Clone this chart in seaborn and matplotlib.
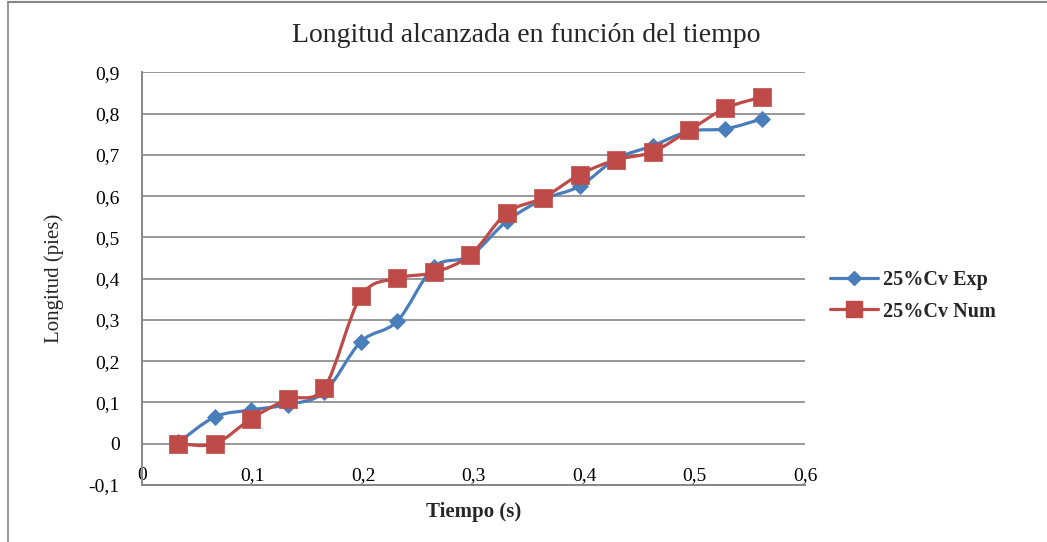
import numpy as np
import matplotlib
matplotlib.use("Agg")
import matplotlib.pyplot as plt
from matplotlib.path import Path
from matplotlib.patches import PathPatch
from matplotlib.lines import Line2D
import seaborn as sns

# ==================== Data ====================
tiempo = [0.033, 0.066, 0.099, 0.132, 0.165, 0.198, 0.231, 0.264, 0.297,
          0.330, 0.363, 0.396, 0.429, 0.462, 0.495, 0.528, 0.561]
cv_exp = [0.003, 0.065, 0.082, 0.095, 0.125, 0.247, 0.297, 0.428, 0.455,
          0.539, 0.592, 0.624, 0.690, 0.722, 0.757, 0.763, 0.787]
cv_num = [0.000, 0.000, 0.061, 0.108, 0.136, 0.357, 0.401, 0.415, 0.457,
          0.559, 0.596, 0.652, 0.688, 0.707, 0.759, 0.813, 0.840]
series_names = ["25%Cv Exp", "25%Cv Num"]
y_ticks = [-0.1, 0, 0.1, 0.2, 0.3, 0.4, 0.5, 0.6, 0.7, 0.8, 0.9]
x_ticks = [0, 0.1, 0.2, 0.3, 0.4, 0.5, 0.6]

COLOR_EXP = "#4A7EBB"
COLOR_NUM = "#BE4B48"
GRID = "#868686"

sns.set_style("white")
plt.rcParams["font.family"] = ["Liberation Serif", "DejaVu Serif"]


def smooth_path(x, y):
    """Excel-like smoothed line: Catmull-Rom converted to cubic Bezier."""
    p = np.column_stack([x, y])
    n = len(p)
    verts = [p[0]]
    codes = [Path.MOVETO]
    for i in range(n - 1):
        p0 = p[i - 1] if i > 0 else p[i]
        p3 = p[i + 2] if i + 2 < n else p[i + 1]
        c1 = p[i] + (p[i + 1] - p0) / 6.0
        c2 = p[i + 1] - (p3 - p[i]) / 6.0
        verts += [c1, c2, p[i + 1]]
        codes += [Path.CURVE4] * 3
    return Path(verts, codes)


def fmt(v):
    if abs(v) < 1e-9:
        return "0"
    return f"{v:.1f}".replace(".", ",")


fig = plt.figure(figsize=(10.47, 5.42), dpi=100)
ax = fig.add_axes([142 / 1047, 1 - 485 / 542, 663 / 1047, (485 - 72.3) / 542])

for y, color in [(cv_exp, COLOR_EXP), (cv_num, COLOR_NUM)]:
    ax.add_patch(PathPatch(smooth_path(tiempo, y), facecolor="none",
                           edgecolor=color, lw=2.3, zorder=3))

sns.scatterplot(x=tiempo, y=cv_exp, ax=ax, marker="D", s=65, color=COLOR_EXP,
                edgecolor=COLOR_EXP, zorder=4)
sns.scatterplot(x=tiempo, y=cv_num, ax=ax, marker="s", s=165, color=COLOR_NUM,
                edgecolor=COLOR_NUM, linewidth=0.5, zorder=5)

ax.set_xlim(0, 0.6)
ax.set_ylim(-0.1, 0.9)
ax.set_xticks(x_ticks)
ax.set_yticks(y_ticks)
ax.set_xticklabels([fmt(v) for v in x_ticks])
ax.set_yticklabels([fmt(v) for v in y_ticks])
ax.tick_params(axis="both", length=0, labelsize=14, colors="black")
ax.tick_params(axis="x", pad=-13)
ax.tick_params(axis="y", pad=16)
ax.yaxis.grid(True, color=GRID, lw=1.2)
ax.xaxis.grid(False)
for side in ["top", "right"]:
    ax.spines[side].set_visible(False)
for side in ["left", "bottom"]:
    ax.spines[side].set_color(GRID)
    ax.spines[side].set_linewidth(1.4)

ax.set_xlabel("Tiempo (s)", fontsize=15, fontweight="bold", labelpad=12)
ax.set_ylabel("Longitud (pies)", fontsize=15, labelpad=18)

fig.text(0.503, 1 - 35 / 542, "Longitud alcanzada en función del tiempo",
         ha="center", va="center", fontsize=20)

handles = [
    Line2D([], [], color=COLOR_EXP, lw=2.3, marker="D", markersize=7),
    Line2D([], [], color=COLOR_NUM, lw=2.3, marker="s", markersize=11),
]
leg = fig.legend(handles, series_names, loc="center left",
                 bbox_to_anchor=(812 / 1047, 1 - 296 / 542), frameon=False,
                 handlelength=2.4, handletextpad=0.25,
                 labelspacing=0.55, prop={"weight": "bold", "size": 14.5})

# chart area border (top and left edges visible)
fig.add_artist(Line2D([8 / 1047, 8 / 1047], [0, 1 - 1.5 / 542],
                      color=GRID, lw=1.2, transform=fig.transFigure))
fig.add_artist(Line2D([8 / 1047, 1], [1 - 1.5 / 542, 1 - 1.5 / 542],
                      color=GRID, lw=1.5, transform=fig.transFigure))

fig.savefig("out.png", dpi=100)
